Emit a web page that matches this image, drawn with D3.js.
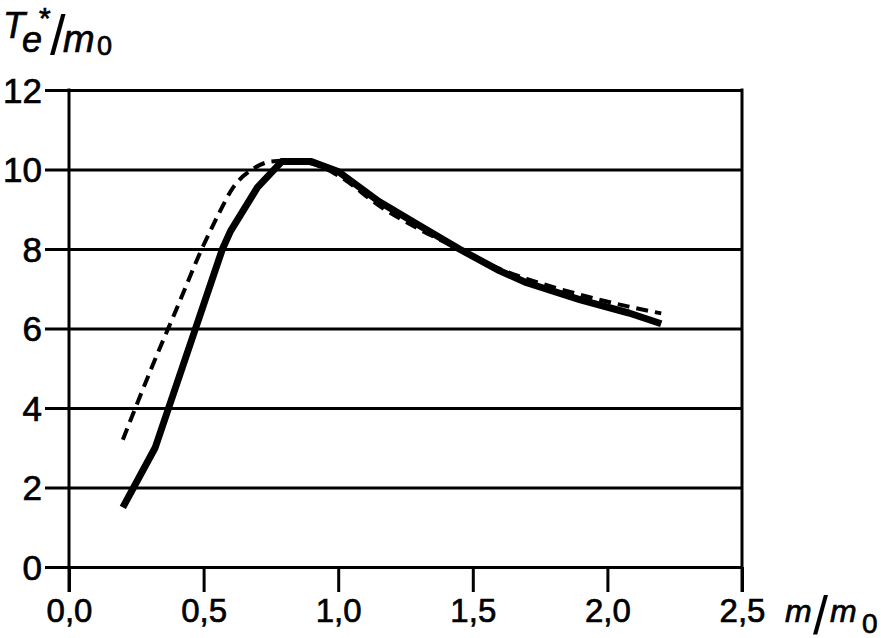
<!DOCTYPE html>
<html>
<head>
<meta charset="utf-8">
<script src="https://cdn.jsdelivr.net/npm/d3@7"></script>
<style>
  body { margin: 0; background: #fff; }
  text { font-family: "Liberation Sans", Arial, sans-serif; fill: #000; stroke: #000; stroke-width: 0.7px; }
</style>
</head>
<body>
<div id="chart"></div>
<script>
// data
const xTicks = [0, 0.5, 1.0, 1.5, 2.0, 2.5];
const xTickLabels = ["0,0", "0,5", "1,0", "1,5", "2,0", "2,5"];
const yTicks = [0, 2, 4, 6, 8, 10, 12];

// solid (thick) curve
const solidX = [0.2, 0.32, 0.47, 0.57, 0.6, 0.7, 0.79, 0.9, 1.0, 1.15, 1.3, 1.45, 1.6, 1.7, 1.9, 2.08, 2.2];
const solidY = [1.5, 3.0, 6.0, 8.0, 8.45, 9.55, 10.2, 10.2, 9.95, 9.2, 8.6, 8.0, 7.45, 7.15, 6.72, 6.39, 6.12];

// dashed curve
const dashX = [0.2, 0.3, 0.4, 0.5, 0.55, 0.61, 0.68, 0.75, 0.8, 0.9, 1.0, 1.15, 1.3, 1.45, 1.6, 1.7, 1.9, 2.08, 2.2];
const dashY = [3.2, 4.9, 6.5, 8.1, 8.8, 9.55, 10.0, 10.2, 10.22, 10.15, 9.85, 9.1, 8.5, 8.0, 7.5, 7.25, 6.85, 6.55, 6.38];

function drawChart() {
    const W = 881, H = 638;
    const margin = { top: 90, left: 69 },
        width = 742 - 69,
        height = 567 - 90;

    const svg = d3.select("#chart")
        .append("svg")
        .attr("width", W)
        .attr("height", H);

    const g = svg.append("g")
        .attr("transform", `translate(${margin.left}, ${margin.top})`);

    const xScale = d3.scaleLinear().domain([0, 2.5]).range([0, width]);
    const yScale = d3.scaleLinear().domain([0, 12]).range([height, 0]);

    // y axis with gridlines running across
    const yAxis = g.append("g")
        .call(d3.axisLeft(yScale).tickValues(yTicks).tickSize(24).tickFormat(d => d));
    yAxis.select(".domain").remove();
    yAxis.selectAll(".tick line")
        .attr("x1", -24)
        .attr("x2", width)
        .attr("stroke", "#000")
        .attr("stroke-width", 3);
    yAxis.selectAll(".tick text")
        .attr("x", -27)
        .attr("dy", "0.35em")
        .style("font-size", "35px");

    // x axis
    const xAxis = g.append("g")
        .attr("transform", `translate(0, ${height})`)
        .call(d3.axisBottom(xScale).tickValues(xTicks).tickSize(25)
            .tickFormat((d, i) => xTickLabels[i]));
    xAxis.select(".domain").remove();
    xAxis.selectAll(".tick line")
        .attr("stroke", "#000")
        .attr("stroke-width", 3);
    xAxis.selectAll(".tick text")
        .attr("y", 55)
        .attr("dy", 0)
        .style("font-size", "33px");

    // left and right frame lines
    [0, 2.5].forEach(v => {
        g.append("line")
            .attr("x1", xScale(v)).attr("x2", xScale(v))
            .attr("y1", yScale(12) - 1.5).attr("y2", height + 25)
            .attr("stroke", "#000")
            .attr("stroke-width", 3);
    });

    const line = d3.line()
        .x(d => xScale(d[0]))
        .y(d => yScale(d[1]));

    const dashData = dashX.map((x, i) => [x, dashY[i]]);
    const solidData = solidX.map((x, i) => [x, solidY[i]]);

    g.append("path")
        .datum(dashData)
        .attr("fill", "none")
        .attr("stroke", "#000")
        .attr("stroke-width", 4)
        .attr("stroke-dasharray", "12,7")
        .attr("d", line.curve(d3.curveMonotoneX));

    g.append("path")
        .datum(solidData)
        .attr("fill", "none")
        .attr("stroke", "#000")
        .attr("stroke-width", 7)
        .attr("stroke-linejoin", "round")
        .attr("d", line.curve(d3.curveLinear));

    // y axis title: T*e / m0
    const yt = svg.append("g");
    yt.append("text").attr("x", 3).attr("y", 38)
        .style("font-size", "36px").style("font-style", "italic").text("T");
    yt.append("text").attr("x", 22).attr("y", 52)
        .style("font-size", "36px").style("font-style", "italic").text("e");
    yt.append("text").attr("x", 39).attr("y", 28)
        .style("font-size", "30px").text("*");
    yt.append("text").attr("x", 50).attr("y", 54)
        .style("font-size", "56px").style("stroke-width", 0).text("/");
    yt.append("text").attr("x", 63).attr("y", 52)
        .style("font-size", "38px").style("font-style", "italic").text("m");
    yt.append("text").attr("x", 97).attr("y", 55)
        .style("font-size", "27px").text("0");

    // x axis title: m / m0
    const xt = svg.append("g");
    xt.append("text").attr("x", 785).attr("y", 622)
        .style("font-size", "32px").style("font-style", "italic").text("m");
    xt.append("text").attr("x", 813).attr("y", 634)
        .style("font-size", "54px").style("stroke-width", 0).text("/");
    xt.append("text").attr("x", 830).attr("y", 622)
        .style("font-size", "32px").style("font-style", "italic").text("m");
    xt.append("text").attr("x", 862).attr("y", 633)
        .style("font-size", "28px").text("0");
}

drawChart();
</script>
</body>
</html>
